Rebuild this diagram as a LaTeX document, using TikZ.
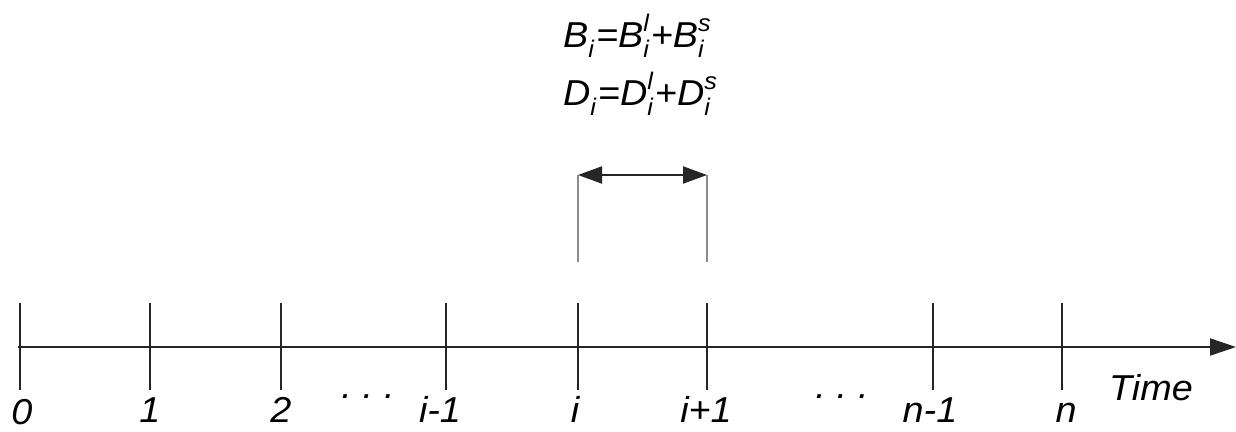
\documentclass[tikz,border=0pt]{standalone}
\usepackage{fontspec}
\setmainfont[FakeStretch=1.05]{Liberation Sans}
\usetikzlibrary{arrows.meta}
\newcommand{\ssub}[2]{\makebox[0pt][l]{\raisebox{-10pt}{\fontsize{24}{24}\selectfont #1}}\raisebox{16pt}{\fontsize{24}{24}\selectfont #2}\hspace{2pt}}
\newcommand{\jsub}[1]{\raisebox{-10pt}{\fontsize{24}{24}\selectfont #1}\hspace{2pt}}
\begin{document}
\begin{tikzpicture}[x=1pt,y=-1pt,
  lab/.style={font=\fontsize{36}{36}\selectfont\itshape, anchor=base, inner sep=0pt},
  frm/.style={font=\fontsize{36}{36}\selectfont\itshape, anchor=base, inner sep=0pt},
  tickline/.style={line width=1.8pt, black!85},
  brk/.style={line width=1.8pt, black!45},
  axisline/.style={line width=2pt, black!85, -{Triangle[length=26pt,width=17pt]}},
  dblarrow/.style={line width=2pt, black!85, {Triangle[length=24pt,width=17pt]}-{Triangle[length=24pt,width=17pt]}}]
\useasboundingbox (0,0) rectangle (1236,431);
\fill[white] (0,0) rectangle (1236,431);
% axis
\coordinate (ax0) at (18,347);
\coordinate (ax1) at (1236,347);
\draw[axisline] (ax0) -- (ax1);
% ticks
\foreach \n/\x in {t0/20, t1/150, t2/281, tim/446, ti/578, tip/707, tnm/933, tn/1062}{
  \coordinate (\n top) at (\x,303);
  \coordinate (\n bot) at (\x,390);
  \draw[tickline] (\n top) -- (\n bot);
}
% labels
\node[lab] (l0) at (22,424) {0};
\node[lab] (l1) at (150,422) {1};
\node[lab] (l2) at (281,422) {2};
\node[lab] (d1) at (368,398) {.\hspace{0.3em}.\hspace{0.3em}.};
\node[lab] (lim) at (440,422) {i-1};
\node[lab] (li) at (575,422) {i};
\node[lab] (lip) at (706,422) {i+1};
\node[lab] (d2) at (842,398) {.\hspace{0.3em}.\hspace{0.3em}.};
\node[lab] (lnm) at (930,422) {n-1};
\node[lab] (ln) at (1066,422) {n};
\node[lab] (ltime) at (1151,400) {Time};
% bracket
\coordinate (bl) at (578,262);
\coordinate (br) at (707,262);
\coordinate (blt) at (578,175);
\coordinate (brt) at (707,175);
\draw[brk] (bl) -- (blt);
\draw[brk] (br) -- (brt);
\draw[dblarrow] (blt) -- (brt);
% formulas
\node[frm] (fb) at (637,47) {B\jsub{i}=B\ssub{i}{l}+B\ssub{i}{s}};
\node[frm] (fd) at (640,105) {D\jsub{i}=D\ssub{i}{l}+D\ssub{i}{s}};
\end{tikzpicture}
\end{document}
